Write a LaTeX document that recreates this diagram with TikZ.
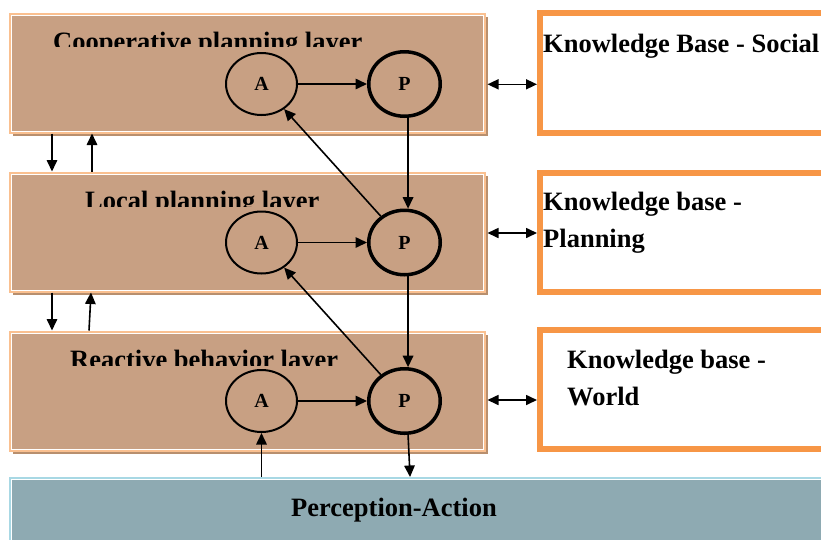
\documentclass[tikz,border=0pt]{standalone}
\usepackage{fontspec}
\setmainfont{Liberation Serif}
\usetikzlibrary{arrows.meta,shapes.geometric,calc}

\definecolor{layerfill}{HTML}{C8A083}
\definecolor{layerrim}{HTML}{FAC090}
\definecolor{layershade}{HTML}{B88F6E}
\definecolor{kbrim}{HTML}{F79646}
\definecolor{barfill}{HTML}{8EAAB2}
\definecolor{barrim}{HTML}{A8D8E4}

\tikzset{
  layer/.style={rectangle, draw=layerrim, fill=layerfill, line width=2pt,
    minimum width=474.5pt, minimum height=119pt, inner sep=0pt,
    preaction={fill=layershade, transform canvas={xshift=3pt,yshift=-3pt}}},
  kbbox/.style={rectangle, draw=kbrim, fill=white, line width=6pt,
    minimum width=300pt, minimum height=119pt, inner sep=0pt},
  barbox/.style={rectangle, draw=barrim, fill=barfill, line width=2pt,
    minimum width=820pt, minimum height=90pt, inner sep=0pt},
  bigtext/.style={font=\fontsize{26.5}{30}\selectfont\bfseries, inner sep=0pt},
  astate/.style={ellipse, draw=black, line width=2pt, minimum width=71pt,
    minimum height=62pt, inner sep=0pt, font=\fontsize{20}{20}\selectfont\bfseries},
  pstate/.style={ellipse, draw=black, line width=3.5pt, minimum width=71.5pt,
    minimum height=64.5pt, inner sep=0pt, font=\fontsize{20}{20}\selectfont\bfseries},
  flow/.style={-{Triangle[length=11.5pt,width=10.5pt]}, line width=1.6pt},
  twoway/.style={{Triangle[length=11pt,width=10pt]}-{Triangle[length=11pt,width=10pt]}, line width=1.6pt},
  innerline/.style={white, line width=0.8pt}
}

\begin{document}
\begin{tikzpicture}[x=1pt,y=-1pt]
\useasboundingbox (0,0) rectangle (821,539);
\clip (0,0) rectangle (821,539);

% planning layers
\node[layer] (L1) at (247.25,73) {};
\node[layer] (L2) at (247.25,232) {};
\node[layer] (L3) at (247.25,391) {};
\foreach \n in {L1,L2,L3}
  \draw[innerline] ([shift={(2.4,2.4)}]\n.north west) rectangle ([shift={(-2.4,-2.4)}]\n.south east);

% perception-action bar
\node[barbox] (Bar) at (420,523) {};
\draw[innerline] ([shift={(2.4,2.4)}]Bar.north west) rectangle ([shift={(-2.4,-2.4)}]Bar.south east);
\node[bigtext, anchor=base] (BarText) at (394,516.5) {Perception-Action};

% knowledge bases
\node[kbbox, minimum height=120pt] (K1) at (690,73) {};
\node[kbbox] (K2) at (690,232) {};
\node[kbbox] (K3) at (690,389.5) {};
\node[bigtext, anchor=base west] (K1a) at (543,52) {Knowledge Base - Social};
\node[bigtext, anchor=base west] (K2a) at (543,210) {Knowledge base -};
\node[bigtext, anchor=base west] (K2b) at (543,247) {Planning};
\node[bigtext, anchor=base west] (K3a) at (567,368) {Knowledge base -};
\node[bigtext, anchor=base west] (K3b) at (567,405) {World};

% layer titles, cut off below
\begin{scope}
  \clip (L1.north west) rectangle (L1.east |- 0,46.6);
  \node[bigtext, anchor=base west] (T1) at (53,50.2) {Cooperative planning layer};
\end{scope}
\begin{scope}
  \clip (L2.north west) rectangle (L2.east |- 0,206.7);
  \node[bigtext, anchor=base west] (T2) at (85,209.8) {Local planning layer};
\end{scope}
\begin{scope}
  \clip (L3.north west) rectangle (L3.east |- 0,365);
  \node[bigtext, anchor=base west] (T3) at (70,368.3) {Reactive behavior layer};
\end{scope}

% A and P states
\node[astate] (A1) at (261.5,84) {A};
\node[pstate] (P1) at (404.5,84) {P};
\node[astate] (A2) at (261.5,242.5) {A};
\node[pstate] (P2) at (404.5,242.5) {P};
\node[astate] (A3) at (261.5,401) {A};
\node[pstate] (P3) at (404.5,401) {P};

% flows inside and between layers
\draw[flow] (A1) -- (P1);
\draw[flow] (A2) -- (P2);
\draw[flow] (A3) -- (P3);
\draw[flow] (P1.-84) -- (P2.84);
\draw[flow] (P2.-84) -- (P3.84);
\draw[flow] (P2) -- (A1);
\draw[flow] (P3) -- (A2);

% perception-action links
\coordinate (drop) at ($(Bar.north -| P3.-84)+(2,0)$);
\draw[flow] (P3.-84) -- (drop);
\draw[flow] (Bar.north -| A3) -- (A3.south);

% layer-to-layer links
\draw[flow] (L1.south -| 52,0) -- (L2.north -| 52,0);
\draw[flow] (L2.north -| 92,0) -- (L1.south -| 92,0);
\draw[flow] (L2.south -| 52,0) -- (L3.north -| 52,0);
\draw[flow] (L3.north -| 89,0) -- (L2.south -| 91,0);

% layer-to-knowledge-base links
\draw[twoway] ($(L1.east |- 0,84.3)+(2,0)$) -- (K1.west |- 0,84.3);
\draw[twoway] ($(L2.east |- 0,233)+(2,0)$) -- (K2.west |- 0,233);
\draw[twoway] ($(L3.east |- 0,400)+(2,0)$) -- (K3.west |- 0,400);
\end{tikzpicture}
\end{document}
